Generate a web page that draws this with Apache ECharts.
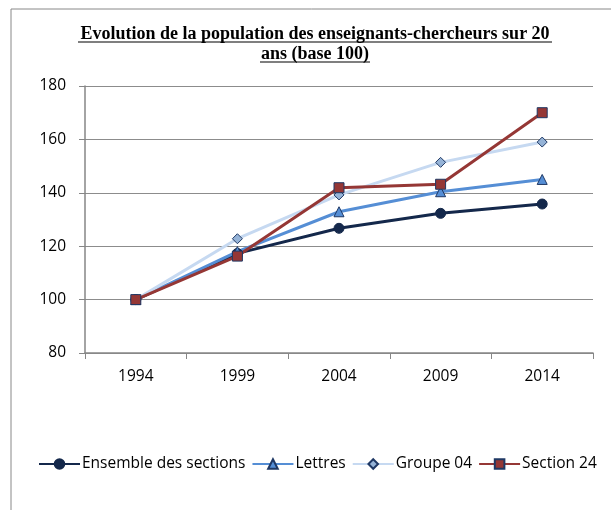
<!DOCTYPE html>
<html>
<head>
<meta charset="utf-8">
<script src="https://cdn.jsdelivr.net/npm/echarts@6/dist/echarts.min.js"></script>
<style>
  html, body { margin: 0; padding: 0; background: #fff; }
  #chart { width: 611px; height: 510px; }
</style>
</head>
<body>
<div id="chart"></div>
<script>
const years = ['1994', '1999', '2004', '2009', '2014']
const ensemble = [100, 117.3, 126.7, 132.3, 135.8]
const lettres = [100, 118, 132.9, 140.4, 145]
const groupe04 = [100, 122.8, 139.2, 151.4, 159]
const section24 = [100, 116.3, 141.9, 143.2, 170]
const yTicks = [80, 100, 120, 140, 160, 180]

const chart = echarts.init(document.getElementById('chart'))

const labelFont = { color: '#000', fontSize: 15.5, fontFamily: 'Open Sans' }

const mkSeries = (name, data, lineColor, symbol, size, fill, border) => ({
  name,
  type: 'line',
  data,
  symbol,
  symbolSize: size,
  showAllSymbol: true,
  lineStyle: { color: lineColor, width: 3 },
  itemStyle: { color: fill, borderColor: border, borderWidth: 1 },
  emphasis: { disabled: true },
  z: 3
})

chart.setOption({
  animation: false,
  graphic: [
    {
      type: 'rect',
      shape: { x: 11, y: 9, width: 700, height: 600 },
      style: { fill: 'none', stroke: '#888', lineWidth: 1 },
      silent: true
    },
    {
      type: 'text',
      x: 315, y: 34,
      style: {
        text: 'Evolution de la population des enseignants-chercheurs sur 20',
        font: 'bold 18px "Liberation Serif"',
        fill: '#000',
        align: 'center',
        verticalAlign: 'middle'
      }
    },
    {
      type: 'text',
      x: 315, y: 54,
      style: {
        text: 'ans (base 100)',
        font: 'bold 18px "Liberation Serif"',
        fill: '#000',
        align: 'center',
        verticalAlign: 'middle'
      }
    },
    {
      type: 'line',
      shape: { x1: 78, y1: 42, x2: 552, y2: 42 },
      style: { stroke: '#000', lineWidth: 1.2 }
    },
    {
      type: 'line',
      shape: { x1: 260, y1: 62, x2: 370, y2: 62 },
      style: { stroke: '#000', lineWidth: 1.2 }
    }
  ],
  legend: {
    top: 451,
    left: 33,
    itemWidth: 41,
    itemHeight: 12,
    itemGap: 6,
    textStyle: { color: '#000', fontSize: 15.5, fontFamily: 'Open Sans', padding: [0, 0, 0, -3] },
    data: ['Ensemble des sections', 'Lettres', 'Groupe 04', 'Section 24']
  },
  grid: {
    left: 85,
    right: 18,
    top: 86,
    bottom: 157,
    containLabel: false
  },
  xAxis: {
    type: 'category',
    data: years,
    boundaryGap: true,
    axisLine: { lineStyle: { color: '#868686', width: 1.5 } },
    axisTick: { show: true, length: 6, lineStyle: { color: '#868686' } },
    axisLabel: { ...labelFont, margin: 16 },
    splitLine: { show: false }
  },
  yAxis: {
    type: 'value',
    min: yTicks[0],
    max: yTicks[yTicks.length - 1],
    interval: 20,
    axisLine: { show: true, lineStyle: { color: '#868686', width: 1.5 } },
    axisTick: { show: true, length: 6, lineStyle: { color: '#868686' } },
    axisLabel: { ...labelFont, margin: 19 },
    splitLine: { lineStyle: { color: '#8c8c8c', width: 1 } }
  },
  series: [
    mkSeries('Ensemble des sections', ensemble, '#14284b', 'circle', 10, '#14284b', '#14284b'),
    mkSeries('Lettres', lettres, '#558ed5', 'triangle', 10, '#558ed5', '#1f3864'),
    mkSeries('Groupe 04', groupe04, '#c6d9f1', 'diamond', 10, '#95b3d7', '#1f3864'),
    mkSeries('Section 24', section24, '#953735', 'rect', 10, '#953735', '#1f3864')
  ]
})
</script>
</body>
</html>
